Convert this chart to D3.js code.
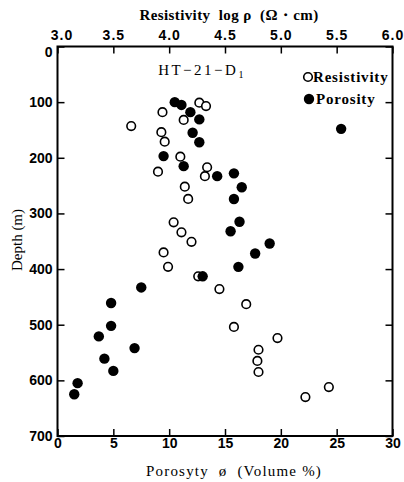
<!DOCTYPE html>
<html>
<head>
<meta charset="utf-8">
<script src="https://cdn.jsdelivr.net/npm/d3@7"></script>
<style>
  body { margin: 0; background: #fff; }
  svg { display: block; }
  .tick text { font-family: "Liberation Sans Narrow", "Liberation Sans", sans-serif; font-size: 14px; font-weight: bold; fill: #000; }
  .lbl { font-family: "Liberation Serif", "DejaVu Serif", serif; fill: #000; }
</style>
</head>
<body>
<svg id="chart"></svg>
<script>
// resistivity (open circles): log rho vs depth (m)
const resLog   = [4.27, 4.33, 3.94, 4.13, 3.66, 3.93, 3.96, 4.10, 4.34, 3.90, 4.32, 4.14, 4.17, 4.04,
                  4.11, 4.20, 3.95, 3.99, 4.26, 4.45, 4.69, 4.58, 4.97, 4.80, 4.79, 4.80, 5.43, 5.22];
const resDepth = [101, 107, 118, 132, 143, 154, 171, 198, 217, 225, 233, 252, 274, 316,
                  334, 351, 370, 396, 413, 436, 463, 504, 524, 545, 565, 585, 612, 630];

// porosity (filled circles): % vs depth (m)
const porValue = [10.5, 11.1, 11.9, 12.7, 25.4, 12.1, 12.7, 9.5, 11.3, 15.8, 14.3, 16.5, 15.8, 16.3,
                  15.5, 19.0, 17.7, 16.2, 13.0, 7.5, 4.8, 4.8, 3.7, 6.9, 4.2, 5.0, 1.8, 1.5];
const porDepth = [100, 105, 118, 131, 148, 155, 172, 197, 215, 228, 233, 253, 274, 315,
                  332, 354, 372, 396, 413, 433, 461, 502, 521, 542, 561, 583, 605, 625];

const resTicks   = [3.0, 3.5, 4.0, 4.5, 5.0, 5.5, 6.0];
const porTicks   = [0, 5, 10, 15, 20, 25, 30];
const depthTicks = [0, 100, 200, 300, 400, 500, 600, 700];

const width = 404, height = 482;
const mLeft = 57.5, mRight = 392.5, mTop = 46.5, mBottom = 436;

const svg = d3.select("#chart").attr("width", width).attr("height", height);

const xRes = d3.scaleLinear().domain([3, 6]).range([mLeft, mRight]);
const xPor = d3.scaleLinear().domain([0, 30]).range([mLeft, mRight]);
const y = d3.scaleLinear().domain([0, 700]).range([mTop, mBottom]);

// axes, ticks pointing inward
const styleAxis = g => {
  g.select(".domain").remove();
  g.selectAll(".tick line").attr("stroke", "#000").attr("stroke-width", 1.5);
};

svg.append("g").attr("transform", `translate(0,${mTop})`)
  .call(d3.axisTop(xRes).tickValues(resTicks).tickSize(-7).tickPadding(7).tickFormat(d3.format(".1f")))
  .call(styleAxis)
  .call(g => g.selectAll(".tick text").attr("letter-spacing", 1)
    .attr("dx", (d, i) => i === 0 ? 4 : 0));

svg.append("g").attr("transform", `translate(0,${mBottom})`)
  .call(d3.axisBottom(xPor).tickValues(porTicks).tickSize(-7).tickPadding(2))
  .call(styleAxis);

svg.append("g").attr("transform", `translate(${mLeft},0)`)
  .call(d3.axisLeft(y).tickValues(depthTicks).tickSize(-7).tickPadding(5))
  .call(styleAxis)
  .call(g => g.selectAll(".tick text").attr("dy", (d, i) => i === 0 ? "0.7em" : "0.32em"));

svg.append("g").attr("transform", `translate(${mRight},0)`)
  .call(d3.axisRight(y).tickValues(depthTicks).tickSize(-7).tickFormat(""))
  .call(styleAxis);

// frame
svg.append("rect")
  .attr("x", mLeft).attr("y", mTop)
  .attr("width", mRight - mLeft).attr("height", mBottom - mTop)
  .attr("fill", "none").attr("stroke", "#000").attr("stroke-width", 2);

// points
svg.append("g").selectAll("circle")
  .data(resLog.map((v, i) => [v, resDepth[i]]))
  .join("circle")
  .attr("cx", d => xRes(d[0])).attr("cy", d => y(d[1]))
  .attr("r", 4.3)
  .attr("fill", "#fff").attr("stroke", "#000").attr("stroke-width", 1.6);

svg.append("g").selectAll("circle")
  .data(porValue.map((v, i) => [v, porDepth[i]]))
  .join("circle")
  .attr("cx", d => xPor(d[0])).attr("cy", d => y(d[1]))
  .attr("r", 5.2)
  .attr("fill", "#000");

// titles
svg.append("text").attr("class", "lbl")
  .attr("x", 229).attr("y", 20).attr("text-anchor", "middle")
  .attr("font-size", 15).attr("font-weight", "bold").attr("letter-spacing", 0.4)
  .attr("xml:space", "preserve")
  .text("Resistivity  log ρ  (Ω・cm)");

svg.append("text").attr("class", "lbl")
  .attr("x", 234).attr("y", 476).attr("text-anchor", "middle")
  .attr("font-size", 15).attr("letter-spacing", 1.2)
  .attr("xml:space", "preserve")
  .text("Porosyty  ø  (Volume %)");

svg.append("text").attr("class", "lbl")
  .attr("transform", "translate(22,240) rotate(-90)")
  .attr("text-anchor", "middle").attr("font-size", 15)
  .attr("xml:space", "preserve")
  .text("Depth (m)");

const title = svg.append("text").attr("class", "lbl")
  .attr("x", 202).attr("y", 75).attr("text-anchor", "middle")
  .attr("font-size", 15).attr("letter-spacing", 2.5);
title.append("tspan").text("HT−21−D");
title.append("tspan").attr("font-size", 10).attr("dy", 3).text("1");

// legend
const legend = svg.append("g").attr("class", "lbl")
  .attr("font-size", 15).attr("font-weight", "bold").attr("letter-spacing", 0.8);
legend.append("circle").attr("cx", 308).attr("cy", 77)
  .attr("r", 4.3).attr("fill", "#fff").attr("stroke", "#000").attr("stroke-width", 1.6);
legend.append("text").attr("x", 313).attr("y", 82).text("Resistivity");
legend.append("circle").attr("cx", 309).attr("cy", 99).attr("r", 5.2).attr("fill", "#000");
legend.append("text").attr("x", 316).attr("y", 104).text("Porosity");
</script>
</body>
</html>
